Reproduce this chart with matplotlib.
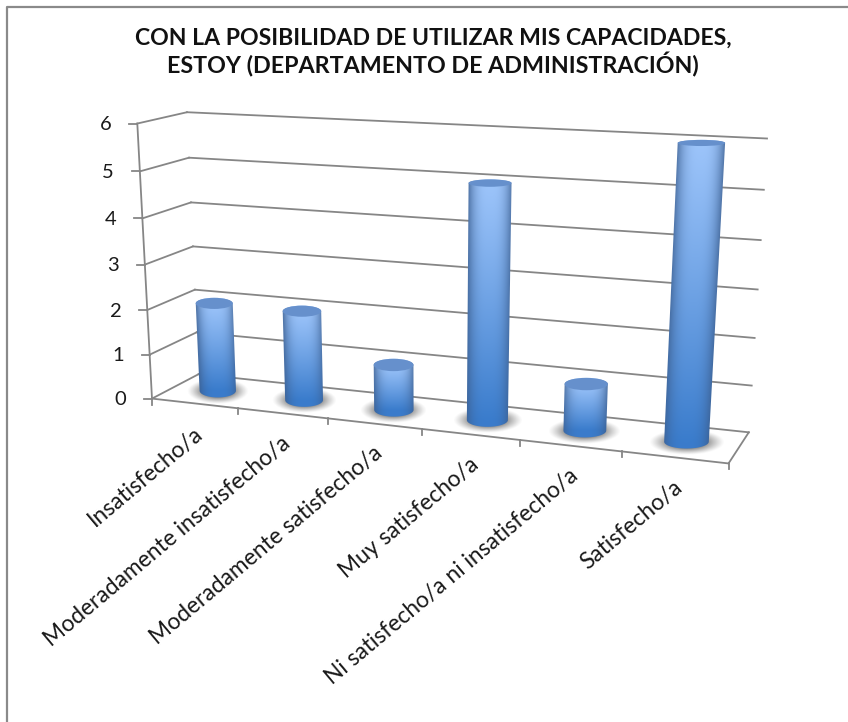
import numpy as np
import matplotlib
matplotlib.use("Agg")
import matplotlib.pyplot as plt
from matplotlib.path import Path
from matplotlib.patches import PathPatch, Ellipse
from matplotlib.transforms import Transform
from matplotlib.textpath import TextPath
from matplotlib.font_manager import FontProperties

W, H = 848, 722
title_lines = ["CON LA POSIBILIDAD DE UTILIZAR MIS CAPACIDADES,", "ESTOY (DEPARTAMENTO DE ADMINISTRACIÓN)"]
categories = ["Insatisfecho/a", "Moderadamente insatisfecho/a", "Moderadamente satisfecho/a",
              "Muy satisfecho/a", "Ni satisfecho/a ni insatisfecho/a", "Satisfecho/a"]
values = [2, 2, 1, 5, 1, 6]
y_ticks = [0, 1, 2, 3, 4, 5, 6]

GRID = "#868686"
LAB = "#1a1a1a"


def fit_size(text, width_px, **font):
    """Font size (pt at 100 dpi) that makes `text` span width_px pixels."""
    ext = TextPath((0, 0), text, size=100, prop=FontProperties(family="Lato", **font)).get_extents()
    return 100 * width_px / (ext.width * 100 / 72)


# Camera calibration of the 3-D box: (category pos, value, depth) -> pixel
cal_world = np.array([(0,0,0),(0,6,0),(6,0,0),(0,0,1),(0,6,1),(6,0,1),(6,6,1),
                      (0,3,0),(0,3,1),(6,3,1),(1,0,0),(3,0,0),(5,0,0)], float)
cal_px = np.array([(153,398),(137,123),(728,463),(198,375),(187,113),(749,431),(767,139),
                   (145,264),(193,246),(758,289),(238,408),(422,430),(622,453)], float)
A, b = [], []
for (u, v, d), (x, y) in zip(cal_world, cal_px):
    A.append([u, v, d, 1, 0, 0, 0, 0, -x*u, -x*v, -x*d]); b.append(x)
    A.append([0, 0, 0, 0, u, v, d, 1, -y*u, -y*v, -y*d]); b.append(y)
P = np.linalg.lstsq(np.array(A), np.array(b), rcond=None)[0]
P = np.append(P, 1).reshape(3, 4)


def project(u, v, d):
    q = P @ np.array([u, v, d, 1.0])
    return q[:2] / q[2]


class Plane(Transform):
    """(category position, value) at a fixed depth -> pixel coordinates."""
    input_dims = output_dims = 2
    is_separable = False

    def __init__(self, plane_depth):
        super().__init__()
        self.plane_depth = plane_depth

    def transform_non_affine(self, pts):
        pts = np.asarray(pts, float)
        h = np.c_[pts[:, 0], pts[:, 1], np.full(len(pts), self.plane_depth), np.ones(len(pts))]
        q = h @ P.T
        return q[:, :2] / q[:, 2:]


fig = plt.figure(figsize=(W/100, H/100), dpi=100, facecolor="white")
ax = fig.add_axes([0, 0, 1, 1])
ax.set_xlim(0, W); ax.set_ylim(H, 0); ax.axis("off")

# frame
ax.plot([6.5, 6.5, W], [H, 6.5, 6.5], color="#8a8a8a", lw=1.6, zorder=1)

front, back = Plane(0) + ax.transData, Plane(1) + ax.transData
lw = 1.3
# grid on wall and side
for v in y_ticks:
    a, c = project(0, v, 0), project(0, v, 1)
    ax.plot([a[0], c[0]], [a[1], c[1]], color=GRID, lw=lw, zorder=2)
    ax.plot([a[0]-8, a[0]], [a[1], a[1]], color=GRID, lw=lw, zorder=2)
    if v > 0:
        ax.plot([0, 6], [v, v], color=GRID, lw=lw, transform=back, zorder=2)
    ax.text(a[0]-26, a[1]+1, str(v), ha="right", va="center", family="Lato", fontsize=14.5, color=LAB)
ax.plot([0, 6], [0, 0], color=GRID, lw=lw, transform=back, zorder=2)
ax.plot([0, 0], [0, 6], color=GRID, lw=lw, transform=front, zorder=2)
ax.plot([0, 6], [0, 0], color=GRID, lw=lw, transform=front, zorder=2)
r0, r1 = project(6, 0, 0), project(6, 0, 1)
ax.plot([r0[0], r1[0]], [r0[1], r1[1]], color=GRID, lw=lw, zorder=2)
# category ticks
for i in range(7):
    t = project(i, 0, 0)
    ax.plot([t[0], t[0]], [t[1], t[1]+6], color=GRID, lw=lw, zorder=2)

# category labels
label_size = fit_size(categories[1], 310)
for i, c in enumerate(categories):
    t = project(i + .5, 0, 0)
    ax.text(t[0]+5, t[1]+27, c, rotation=40, rotation_mode="anchor", ha="right", va="center",
            family="Lato", fontsize=label_size, color=LAB)

ax.text(433.5, 38, title_lines[0], ha="center", va="center", family="Lato", weight="bold",
        fontsize=fit_size(title_lines[0], 593, weight="bold"), color="#111111")
ax.text(432.5, 65, title_lines[1], ha="center", va="center", family="Lato", weight="bold",
        fontsize=fit_size(title_lines[1], 529, weight="bold"), color="#111111")

# cylinders
light = np.array([0x9c, 0xc4, 0xfa]) / 255
dark = np.array([0x3a, 0x7c, 0xcc]) / 255
edge = np.array([0x3c, 0x5f, 0x90]) / 255
cap = "#6690cc"
DEPTH = 0.5
RADIUS = 0.215


def semi_h(v):
    return 6.8 - 0.62 * v


for i, val in enumerate(values):
    uc = i + .5
    base = project(uc, 0, DEPTH); top = project(uc, val, DEPTH)
    rb = (project(uc + RADIUS, 0, DEPTH)[0] - project(uc - RADIUS, 0, DEPTH)[0]) / 2
    rt = (project(uc + RADIUS, val, DEPTH)[0] - project(uc - RADIUS, val, DEPTH)[0]) / 2
    sb, st = semi_h(0), semi_h(val)
    # floor shadow
    sx0, sx1 = base[0]-rb*1.7, base[0]+rb*1.7
    sy0, sy1 = base[1]-sb*1.9, base[1]+sb*1.9
    gx, gy = np.meshgrid(np.linspace(-1, 1, 80), np.linspace(-1, 1, 50))
    rr = np.sqrt(gx**2 + gy**2)
    sh = np.zeros(gx.shape + (4,))
    sh[..., :3] = 0.33
    sh[..., 3] = np.clip(1.6*(1-rr), 0, 1)**1.2 * 0.9
    ax.imshow(sh, extent=(sx0, sx1, sy1, sy0), zorder=3, aspect="auto", interpolation="bilinear")
    # body gradient
    x0 = min(base[0]-rb, top[0]-rt) - 2; x1 = max(base[0]+rb, top[0]+rt) + 2
    y0, y1 = top[1] - st - 2, base[1] + sb + 2
    nx, ny = int(x1-x0)*3, int(y1-y0)*2
    xs = np.linspace(x0, x1, nx); ys = np.linspace(y0, y1, ny)
    X, Y = np.meshgrid(xs, ys)
    f = np.clip((Y - top[1]) / (base[1] - top[1]), 0, 1)
    cx = top[0] + (base[0]-top[0])*f
    rx = rt + (rb-rt)*f
    s = np.clip(np.abs(X - cx) / rx, 0, 1)
    shade = s**3.0
    g = f**1.1
    rgb = (light[None, None, :]*(1-g[..., None]) + dark[None, None, :]*g[..., None])
    rgb = rgb*(1-shade[..., None]*.75) + edge[None, None, :]*shade[..., None]*.75
    im = ax.imshow(rgb, extent=(x0, x1, y1, y0), zorder=4, aspect="auto", interpolation="bilinear")
    t_ = np.linspace(0, np.pi, 40)
    bot_x = base[0] + rb*np.cos(t_); bot_y = base[1] + sb*np.sin(t_)
    top_x = top[0] - rt*np.cos(t_); top_y = top[1] - st*np.sin(t_)
    poly = np.c_[np.r_[bot_x, top_x], np.r_[bot_y, top_y]]
    clip = PathPatch(Path(np.vstack([poly, poly[0]]), closed=True), transform=ax.transData, fc="none", ec="none")
    ax.add_patch(clip)
    im.set_clip_path(clip)
    ax.add_patch(Ellipse(top, 2*rt, 2*st, fc=cap, ec="none", zorder=5))

ax.set_xlim(0, W); ax.set_ylim(H, 0)
fig.savefig("out.png", dpi=100, facecolor="white")
